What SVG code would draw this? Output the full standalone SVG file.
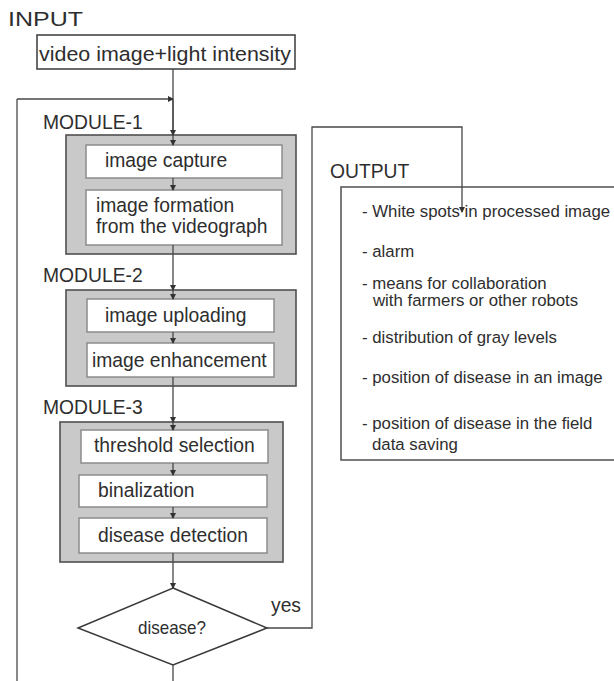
<svg xmlns="http://www.w3.org/2000/svg" width="614" height="681" viewBox="0 0 614 681">
<defs>
<marker id="ah" markerWidth="6" markerHeight="6" refX="5" refY="3" orient="auto" markerUnits="userSpaceOnUse">
<path d="M0,0 L6,3 L0,6 z" fill="#333"/>
</marker>
<style>
text{font-family:"Liberation Sans",Arial,sans-serif;fill:#2e2e2e}
.lbl{font-size:19.3px}
.box{font-size:19.3px}
.out{font-size:16.8px}
.mod{fill:#c9c9c9;stroke:#505050;stroke-width:1.6}
.inner{fill:#fff;stroke:#8c8c8c;stroke-width:1.5}
.ln{fill:none;stroke:#484848;stroke-width:1.3}
.arr{marker-end:url(#ah)}
</style>
</defs>
<rect width="614" height="681" fill="#fff"/>

<g id="input">
<text class="lbl" x="8" y="26" textLength="75" lengthAdjust="spacingAndGlyphs">INPUT</text>
<rect x="37" y="35" width="258" height="34" fill="#fff" stroke="#3a3a3a" stroke-width="1.5"/>
<text class="box" x="39" y="61" textLength="252" lengthAdjust="spacingAndGlyphs">video image+light intensity</text>
</g>

<g id="module1">
<text class="lbl" x="43" y="129">MODULE-1</text>
<rect class="mod" x="66" y="135" width="230" height="119"/>
<rect class="inner" x="86" y="145" width="196" height="33"/>
<text class="box" x="105" y="167">image capture</text>
<rect class="inner" x="86" y="190" width="196" height="55"/>
<text class="box" x="96" y="212">image formation</text>
<text class="box" x="96" y="233">from the videograph</text>
</g>

<g id="module2">
<text class="lbl" x="43" y="282">MODULE-2</text>
<rect class="mod" x="66" y="290" width="230" height="96"/>
<rect class="inner" x="87" y="299" width="187" height="33"/>
<text class="box" x="105" y="322">image uploading</text>
<rect class="inner" x="87" y="343" width="187" height="34"/>
<text class="box" x="92" y="367">image enhancement</text>
</g>

<g id="module3">
<text class="lbl" x="43" y="414">MODULE-3</text>
<rect class="mod" x="60" y="422" width="223" height="140"/>
<rect class="inner" x="81" y="430" width="187" height="33"/>
<text class="box" x="94" y="452">threshold selection</text>
<rect class="inner" x="79" y="475" width="188" height="32"/>
<text class="box" x="98" y="497">binalization</text>
<rect class="inner" x="79" y="518" width="188" height="35"/>
<text class="box" x="98" y="542">disease detection</text>
</g>

<g id="decision">
<polygon points="173,588 267,628 173,665 78,628" fill="#fff" stroke="#3a3a3a" stroke-width="1.5"/>
<text x="138" y="634" font-size="18.5" textLength="68" lengthAdjust="spacingAndGlyphs">disease?</text>
</g>

<g id="output">
<text class="lbl" x="330" y="178">OUTPUT</text>
<rect x="341" y="187" width="290" height="273" fill="#fff" stroke="#5a5a5a" stroke-width="1.6"/>
<text class="out" x="362" y="217">- White spots in processed image</text>
<text class="out" x="362" y="257">- alarm</text>
<text class="out" x="362" y="289">- means for collaboration</text>
<text class="out" x="373" y="306">with farmers or other robots</text>
<text class="out" x="362" y="343">- distribution of gray levels</text>
<text class="out" x="362" y="383">- position of disease in an image</text>
<text class="out" x="362" y="429">- position of disease in the field</text>
<text class="out" x="372" y="450">data saving</text>
</g>

<g id="connectors">
<line class="ln" x1="173" y1="69" x2="173" y2="135"/>
<line class="ln arr" x1="17" y1="99" x2="173" y2="99"/>
<line class="ln arr" x1="173" y1="100" x2="173" y2="135"/>
<line class="ln arr" x1="173" y1="135" x2="173" y2="145"/>
<line class="ln arr" x1="173" y1="178" x2="173" y2="190"/>
<line class="ln" x1="173" y1="245" x2="173" y2="254"/>
<line class="ln arr" x1="173" y1="254" x2="173" y2="290"/>
<line class="ln arr" x1="173" y1="290" x2="173" y2="299"/>
<line class="ln arr" x1="173" y1="332" x2="173" y2="343"/>
<line class="ln" x1="173" y1="377" x2="173" y2="386"/>
<line class="ln arr" x1="173" y1="386" x2="173" y2="422"/>
<line class="ln arr" x1="173" y1="422" x2="173" y2="430"/>
<line class="ln arr" x1="173" y1="463" x2="173" y2="475"/>
<line class="ln arr" x1="173" y1="507" x2="173" y2="518"/>
<line class="ln" x1="173" y1="553" x2="173" y2="562"/>
<line class="ln arr" x1="173" y1="562" x2="173" y2="588"/>
<line class="ln" x1="173" y1="665" x2="173" y2="681"/>
<polyline class="ln" points="17,681 17,99"/>
<polyline class="ln arr" points="267,628 312,628 312,127 462,127 462,212"/>
<text class="lbl" x="271" y="612">yes</text>
</g>
</svg>
